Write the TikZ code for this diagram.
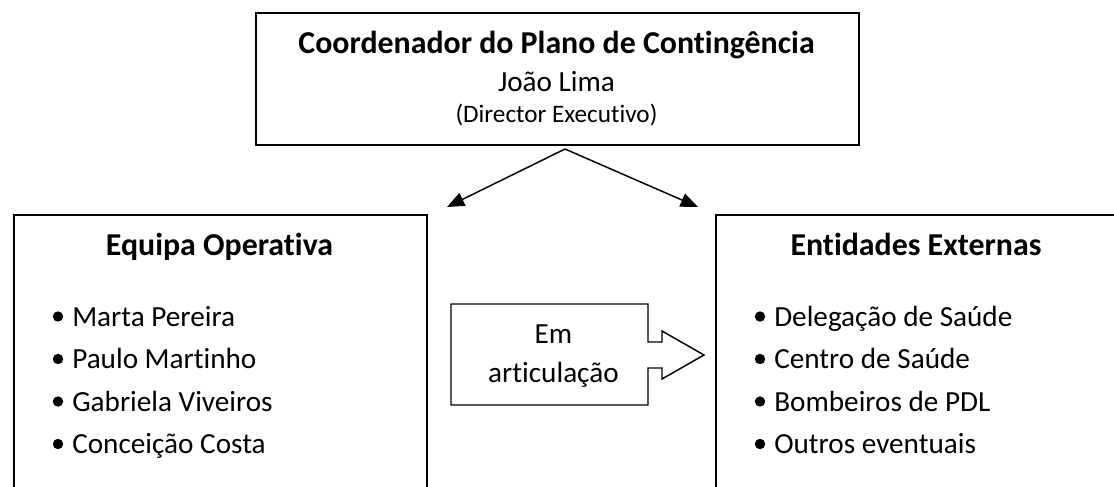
\documentclass[tikz,border=0pt]{standalone}
\usepackage{fontspec}
\setmainfont{Carlito}[Ligatures={NoCommon}]
\usetikzlibrary{arrows.meta}
\begin{document}
\begin{tikzpicture}[x=0.75pt,y=-0.75pt,
  boxframe/.style={draw, line width=1.4pt, inner sep=0pt, anchor=north west},
  headtext/.style={anchor=base, inner sep=0pt, font=\fontsize{23.9}{28}\selectfont\bfseries},
  bodytext/.style={anchor=base, inner sep=0pt, font=\fontsize{21.9}{26}\selectfont},
  smalltext/.style={anchor=base, inner sep=0pt, font=\fontsize{18.9}{22}\selectfont},
  itemtext/.style={anchor=base west, inner sep=0pt, font=\fontsize{21.9}{26}\selectfont},
  conn/.style={line width=1.1pt, -{Triangle[length=13pt,width=10.5pt]}},
  calloutline/.style={line width=1.1pt}]
\useasboundingbox (0,0) rectangle (1114,486);
\clip (0,0) rectangle (1114,486);

% boxes
\node[boxframe, minimum width=452.25pt, minimum height=99pt] (coord) at (255,12) {};
\node[boxframe, minimum width=309.75pt, minimum height=225pt] (equipa) at (13,214) {};
\node[boxframe, minimum width=301.5pt, minimum height=225pt] (entid) at (715,214) {};

% top texts
\node[headtext] (ttitle) at (556.5,53) {Coordenador do Plano de Contingência};
\node[bodytext] (tname) at (556.5,91) {João Lima};
\node[smalltext] (trole) at (556.5,122) {(Director Executivo)};

% headings
\node[headtext] (hequipa) at (219.5,255) {Equipa Operativa};
\node[headtext] (hentid) at (916,255) {Entidades Externas};

% lists
\foreach \y/\t [count=\i] in {326/Marta Pereira, 368.5/Paulo Martinho, 411/Gabriela Viveiros, 453.5/Conceição Costa}{
  \fill (58,\y-9.5) circle (5.2);
  \node[itemtext] (l\i) at (72,\y) {\t};
}
\foreach \y/\t [count=\i] in {326/Delegação de Saúde, 368.5/Centro de Saúde, 411/Bombeiros de PDL, 453.5/Outros eventuais}{
  \fill (760,\y-9.5) circle (5.2);
  \node[itemtext] (r\i) at (774,\y) {\t};
}

% connectors
\coordinate (apex) at (565,149);
\coordinate (ltip) at (447,207);
\coordinate (rtip) at (698,207);
\draw[conn] (apex) -- (ltip);
\draw[conn] (apex) -- (rtip);

% callout arrow
\draw[calloutline] (451,304) -- (648,304) -- (648,342) -- (662,342) -- (662,331)
  -- (704,355) -- (662,379) -- (662,368) -- (648,368) -- (648,405) -- (451,405) -- cycle;
\node[bodytext] (cem) at (553.5,343) {Em};
\node[bodytext] (cart) at (553.5,382) {articulação};
\end{tikzpicture}
\end{document}
